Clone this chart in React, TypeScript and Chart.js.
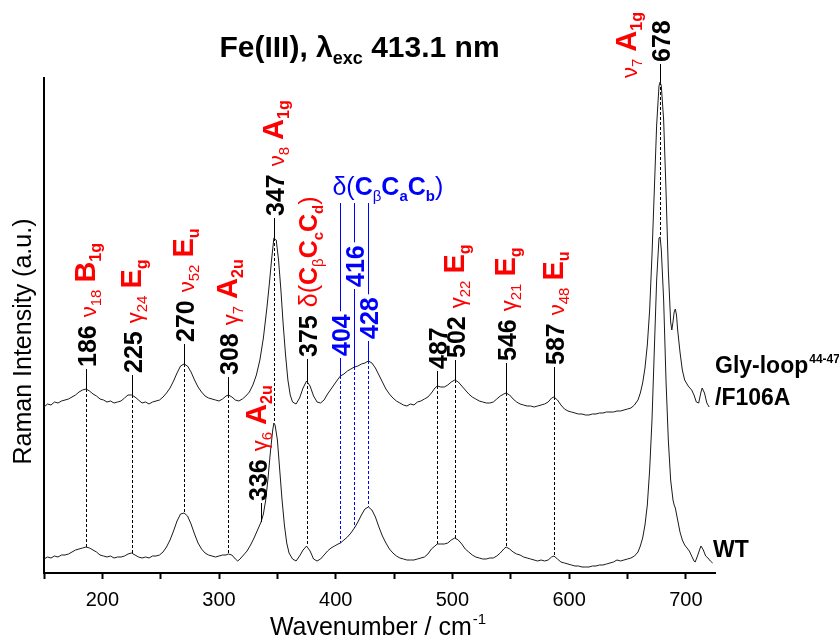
import React, { useEffect, useRef } from 'react';
import { Chart, registerables } from 'chart.js';

Chart.register(...registerables);

const FONT = '"Liberation Sans", Arial, sans-serif';
const RED = '#ff0000';
const BLUE = '#0000ff';
const BLACK = '#000000';

// Gly-loop44-47/F106A spectrum (upper trace, offset)
const glyWavenumber = [150,153,156,159,162,165,168,171,174,177,180,183,186,189,192,195,198,201,204,207,210,213,216,219,222,225,228,231,234,237,240,243,246,249,252,255,258,261,264,267,270,273,276,279,282,285,288,291,294,297,300,303,306,308,311,314,317,320,323,326,329,332,335,338,341,343,345,347,349,351,353,355,357,359,361,363,366,369,372,375,378,381,384,387,390,393,396,399,402,404,407,410,413,416,419,422,425,428,431,434,437,440,443,446,449,452,455,458,461,464,467,470,473,476,479,482,485,487,490,493,496,499,502,505,508,511,514,517,520,523,526,529,532,535,538,541,544,546,549,552,555,558,561,564,567,570,573,576,579,582,585,587,590,593,596,599,602,605,608,611,614,617,620,623,626,629,632,635,638,641,644,647,650,653,656,659,661,663,665,667,669,671,673,675,677,678,679,681,683,685,687,688,689,690,691,692,693,695,697,699,702,705,707,709,711,713,714,716,718,720];
const glyIntensity = [166,169,168,171,170,172,173,174,176,178,181,183,184,182,179,177,174,173,171,172,170,171,172,175,178,178,176,173,170,171,169,171,172,173,176,180,185,192,200,207,209,207,201,193,186,181,177,175,174,173,172,174,177,178,176,173,172,174,177,181,188,198,213,235,265,288,313,335,333,313,283,248,218,193,178,171,169,175,185,192,187,177,171,170,173,179,184,189,194,197,199,202,204,206,207,209,210,212,210,205,198,191,184,179,175,172,170,168,167,169,168,171,172,174,176,180,185,187,186,186,188,191,193,191,187,183,179,176,174,172,171,170,170,171,174,177,179,180,178,174,171,169,168,167,167,166,167,168,169,171,175,176,173,168,164,162,161,160,159,159,158,158,159,159,160,160,161,161,161,162,162,163,164,165,168,173,180,190,205,228,263,318,383,448,487,491,487,453,383,303,251,243,251,261,264,258,243,221,203,193,187,183,178,171,170,181,185,180,170,166];

// WT spectrum (lower trace)
const wtWavenumber = [150,153,156,159,162,165,168,171,174,177,180,183,186,189,192,195,198,201,204,207,210,213,216,219,222,225,228,231,234,237,240,243,246,249,252,255,258,261,264,267,270,273,276,279,282,285,288,291,294,297,300,303,306,308,311,314,316,318,321,324,327,330,333,336,338,340,342,344,346,347,348,350,352,354,356,358,360,363,366,369,372,375,378,381,384,387,390,393,396,399,402,404,407,410,413,416,419,422,425,428,431,434,437,440,443,446,449,452,455,458,461,464,467,470,473,476,479,482,485,487,490,493,496,499,502,505,508,511,514,517,520,523,526,529,532,535,538,541,544,546,549,552,555,558,561,564,567,570,573,576,579,582,585,587,590,593,596,599,602,605,608,611,614,617,620,623,626,629,632,635,638,641,644,647,650,653,656,659,661,663,665,667,669,671,673,675,677,678,679,681,683,685,687,689,690,691,693,695,697,699,701,703,705,707,708,710,712,713,715,717,719,721,723];
const wtIntensity = [14,16,15,17,16,18,18,19,21,23,24,25,26,25,23,21,18,17,16,17,15,16,16,17,19,20,18,16,15,16,15,17,17,18,21,26,33,42,52,59,60,57,49,39,30,24,20,18,17,16,17,18,18,19,18,14,12,14,18,22,28,35,43,51,59,73,95,121,143,150,148,133,103,73,48,30,20,14,12,17,23,27,22,14,12,14,18,22,25,27,29,30,33,36,40,45,51,58,64,66,63,56,46,37,30,24,20,17,15,14,13,13,13,14,15,16,19,24,27,29,29,29,30,33,35,33,29,24,21,18,16,15,14,14,15,15,17,20,24,26,24,21,19,18,16,15,14,13,12,13,12,13,16,17,14,11,10,9,8,7,7,6,6,6,7,7,8,8,9,10,11,13,12,13,14,15,17,21,27,35,48,68,103,153,223,293,335,336,323,273,193,133,93,73,68,65,53,41,33,28,25,22,17,12,11,17,24,27,23,17,15,12,10];

const xTickValues = [150, 200, 250, 300, 350, 400, 450, 500, 550, 600, 650, 700];
const xLabeledTicks = [200, 300, 400, 500, 600, 700];

type Seg = [string, string];
interface PeakLabel {
  x: number;
  trace: 'gly' | 'wt';
  lead: number;
  color: string;
  segs: Seg[];
  dx?: number;
  toHeading?: boolean;
  side?: Seg[];
}

const deltaRed: Seg[] = [['δ(', 'D'], ['C', 'C'], ['β', 'CB'], ['C', 'C'], ['c', 'CS'], ['C', 'C'], ['d', 'CS'], [')', 'D']];
const deltaBlue: Seg[] = [['δ(', 'D'], ['C', 'C'], ['β', 'CB'], ['C', 'C'], ['a', 'CS'], ['C', 'C'], ['b', 'CS'], [')', 'D']];

const peakLabels: PeakLabel[] = [
  { x: 186, trace: 'gly', lead: 20, color: BLACK, segs: [['186', 'N'], ['ν', 'G'], ['18', 'GS'], ['B', 'S'], ['1g', 'SS']] },
  { x: 225, trace: 'gly', lead: 20, color: BLACK, segs: [['225', 'N'], ['γ', 'G'], ['24', 'GS'], ['E', 'S'], ['g', 'SS']] },
  { x: 270, trace: 'gly', lead: 20, color: BLACK, segs: [['270', 'N'], ['ν', 'G'], ['52', 'GS'], ['E', 'S'], ['u', 'SS']] },
  { x: 308, trace: 'gly', lead: 18, color: BLACK, segs: [['308', 'N'], ['γ', 'G'], ['7', 'GS'], ['A', 'S'], ['2u', 'SS']] },
  { x: 347, trace: 'gly', lead: 20, color: BLACK, segs: [['347', 'N'], ['ν', 'G'], ['8', 'GS'], ['A', 'S'], ['1g', 'SS']] },
  { x: 375, trace: 'gly', lead: 22, color: BLACK, segs: [['375', 'N'], ...deltaRed] },
  { x: 404, trace: 'gly', lead: 18, color: BLUE, segs: [['404', 'N']], toHeading: true },
  { x: 416, trace: 'gly', lead: 78, color: BLUE, segs: [['416', 'N']], toHeading: true },
  { x: 428, trace: 'gly', lead: 20, color: BLUE, segs: [['428', 'N']], toHeading: true },
  { x: 487, trace: 'gly', lead: 15, color: BLACK, segs: [['487', 'N']] },
  { x: 502, trace: 'gly', lead: 20, color: BLACK, segs: [['502', 'N'], ['γ', 'G'], ['22', 'GS'], ['E', 'S'], ['g', 'SS']] },
  { x: 546, trace: 'gly', lead: 30, color: BLACK, segs: [['546', 'N'], ['γ', 'G'], ['21', 'GS'], ['E', 'S'], ['g', 'SS']] },
  { x: 587, trace: 'gly', lead: 30, color: BLACK, segs: [['587', 'N'], ['ν', 'G'], ['48', 'GS'], ['E', 'S'], ['u', 'SS']] },
  { x: 678, trace: 'gly', lead: 18, color: BLACK, segs: [['678', 'N']], side: [['ν', 'G'], ['7', 'GS'], ['A', 'S'], ['1g', 'SS']] },
  { x: 336, trace: 'wt', lead: 19, dx: -4, color: BLACK, segs: [['336', 'N'], ['γ', 'G'], ['6', 'GS'], ['A', 'S'], ['2u', 'SS']] },
];

const STY: Record<string, { font: string; dy: number; red: boolean; gap?: number }> = {
  N: { font: `bold 25px ${FONT}`, dy: 0, red: false, gap: 8 },
  G: { font: `22px ${FONT}`, dy: 0, red: true },
  GS: { font: `15px ${FONT}`, dy: 5, red: true, gap: 7 },
  S: { font: `bold 29px ${FONT}`, dy: -1, red: true },
  SS: { font: `bold 16px ${FONT}`, dy: 5, red: true },
  D: { font: `25px ${FONT}`, dy: 0, red: true },
  C: { font: `bold 25px ${FONT}`, dy: 0, red: true },
  CB: { font: `15px ${FONT}`, dy: 6, red: true },
  CS: { font: `bold 15px ${FONT}`, dy: 6, red: true },
};

function interp(xs: number[], ys: number[], x: number): number {
  for (let i = 0; i < xs.length - 1; i++) {
    if (x >= xs[i] && x <= xs[i + 1]) {
      const t = (x - xs[i]) / (xs[i + 1] - xs[i]);
      return ys[i] + t * (ys[i + 1] - ys[i]);
    }
  }
  return ys[ys.length - 1];
}

function drawSegs(ctx: CanvasRenderingContext2D, segs: Seg[], x0: number, y0: number, numColor: string, override?: string): number {
  let pos = x0;
  segs.forEach((s, i) => {
    const st = STY[s[1]];
    ctx.font = st.font;
    ctx.fillStyle = override || (st.red ? RED : numColor);
    ctx.fillText(s[0], pos, y0 + st.dy);
    pos += ctx.measureText(s[0]).width;
    if (st.gap && i < segs.length - 1) pos += st.gap;
  });
  return pos - x0;
}

function drawRotated(ctx: CanvasRenderingContext2D, x: number, yBottom: number, segs: Seg[], color: string): number {
  ctx.save();
  ctx.translate(x, yBottom);
  ctx.rotate(-Math.PI / 2);
  ctx.textBaseline = 'alphabetic';
  ctx.textAlign = 'left';
  const len = drawSegs(ctx, segs, 0, 9, color);
  ctx.restore();
  return len;
}

const annotationPlugin = {
  id: 'ramanAnnotations',
  beforeDatasetsDraw(chart: any) {
    const ctx: CanvasRenderingContext2D = chart.ctx;
    const xs = chart.scales.x;
    const ys = chart.scales.y;
    ctx.save();
    ctx.lineWidth = 1;
    ctx.setLineDash([3, 2]);
    peakLabels.forEach((p) => {
      if (p.trace !== 'gly') return;
      const px = Math.round(xs.getPixelForValue(p.x)) + 0.5;
      const yTop = ys.getPixelForValue(interp(glyWavenumber, glyIntensity, p.x));
      const yBot = ys.getPixelForValue(interp(wtWavenumber, wtIntensity, p.x));
      ctx.strokeStyle = p.color;
      ctx.beginPath();
      ctx.moveTo(px, yTop);
      ctx.lineTo(px, yBot);
      ctx.stroke();
    });
    ctx.restore();
  },
  afterDatasetsDraw(chart: any) {
    const ctx: CanvasRenderingContext2D = chart.ctx;
    const xs = chart.scales.x;
    const ys = chart.scales.y;
    const area = chart.chartArea;
    const headingBaseline = area.top + 117;
    const headingLineTop = headingBaseline + 8;

    ctx.save();
    peakLabels.forEach((p) => {
      const px = Math.round(xs.getPixelForValue(p.x)) + 0.5;
      const v = p.trace === 'gly' ? interp(glyWavenumber, glyIntensity, p.x) : interp(wtWavenumber, wtIntensity, p.x);
      const yTrace = ys.getPixelForValue(v);
      const yLeadTop = yTrace - p.lead;
      ctx.strokeStyle = p.color;
      ctx.lineWidth = 1;
      ctx.setLineDash([]);
      ctx.beginPath();
      ctx.moveTo(px, yTrace);
      ctx.lineTo(px, yLeadTop);
      ctx.stroke();
      const textBottom = yLeadTop - 2;
      const len = drawRotated(ctx, px + (p.dx || 0), textBottom, p.segs, p.color);
      if (p.toHeading) {
        ctx.strokeStyle = p.color;
        ctx.beginPath();
        ctx.moveTo(px, textBottom - len - 3);
        ctx.lineTo(px, headingLineTop);
        ctx.stroke();
      }
      if (p.side) {
        drawRotated(ctx, px - 33, yTrace - 4, p.side, p.color);
      }
    });

    // blue heading
    ctx.textBaseline = 'alphabetic';
    ctx.textAlign = 'left';
    drawSegs(ctx, deltaBlue, xs.getPixelForValue(404) - 8, headingBaseline, BLUE, BLUE);

    // sample labels
    ctx.fillStyle = BLACK;
    ctx.font = `bold 23px ${FONT}`;
    ctx.fillText('Gly-loop', area.right, area.top + 295);
    const gw = ctx.measureText('Gly-loop').width;
    ctx.font = `bold 12px ${FONT}`;
    ctx.fillText('44-47', area.right + gw + 1, area.top + 285);
    ctx.font = `bold 23px ${FONT}`;
    ctx.fillText('/F106A', area.right, area.top + 327);
    ctx.fillText('WT', area.right - 2, area.top + 479);

    // title
    const tSegs: [string, string][] = [['Fe(III), λ', `bold 30px ${FONT}`], ['exc', `bold 18px ${FONT}`], [' 413.1 nm', `bold 30px ${FONT}`]];
    let tw = 0;
    tSegs.forEach((s) => { ctx.font = s[1]; tw += ctx.measureText(s[0]).width; });
    let tx = (area.left + area.right) / 2 - 20 - tw / 2;
    const tBase = 57;
    tSegs.forEach((s, i) => {
      ctx.font = s[1];
      ctx.fillText(s[0], tx, tBase + (i === 1 ? 7 : 0));
      tx += ctx.measureText(s[0]).width;
    });

    // x-axis title
    ctx.font = `25px ${FONT}`;
    const xt = 'Wavenumber / cm';
    const xw = ctx.measureText(xt).width;
    ctx.font = `15px ${FONT}`;
    const sw = ctx.measureText('-1').width;
    const xx = (area.left + area.right) / 2 - 2 - (xw + sw) / 2;
    ctx.font = `25px ${FONT}`;
    ctx.fillText(xt, xx, 635);
    ctx.font = `15px ${FONT}`;
    ctx.fillText('-1', xx + xw + 1, 624);

    // y-axis title
    ctx.save();
    ctx.translate(31, (area.top + area.bottom) / 2 + 16);
    ctx.rotate(-Math.PI / 2);
    ctx.font = `25px ${FONT}`;
    ctx.textAlign = 'center';
    ctx.fillText('Raman Intensity (a.u.)', 0, 0);
    ctx.restore();

    ctx.restore();
  },
};

export default function App() {
  const ref = useRef<HTMLCanvasElement | null>(null);
  useEffect(() => {
    if (!ref.current) return;
    const toPts = (xs: number[], ys: number[]) => xs.map((x, i) => ({ x, y: ys[i] }));
    const chart = new Chart(ref.current, {
      type: 'line',
      data: {
        datasets: [
          { label: 'Gly-loop44-47/F106A', data: toPts(glyWavenumber, glyIntensity), borderColor: '#1a1a1a', borderWidth: 1, pointRadius: 0, tension: 0, fill: false },
          { label: 'WT', data: toPts(wtWavenumber, wtIntensity), borderColor: '#1a1a1a', borderWidth: 1, pointRadius: 0, tension: 0, fill: false },
        ],
      },
      options: {
        animation: false,
        responsive: false,
        devicePixelRatio: 1,
        layout: { padding: { left: 44, top: 78, right: 124, bottom: 0 } },
        plugins: { legend: { display: false }, title: { display: false }, tooltip: { enabled: false } },
        scales: {
          x: {
            type: 'linear',
            min: 150,
            max: 725,
            afterBuildTicks: (scale: any) => { scale.ticks = xTickValues.map((v) => ({ value: v })); },
            afterFit: (scale: any) => { scale.height = 66; },
            ticks: {
              autoSkip: false,
              maxRotation: 0,
              padding: 9,
              color: BLACK,
              font: { family: FONT, size: 20 },
              callback: (v: any) => (xLabeledTicks.includes(Number(v)) ? String(v) : ''),
            },
            grid: { display: true, drawOnChartArea: false, drawTicks: true, tickLength: 6, tickWidth: 2, tickColor: BLACK, color: BLACK },
            border: { display: true, color: BLACK, width: 2 },
          },
          y: {
            type: 'linear',
            min: 0,
            max: 495,
            afterFit: (scale: any) => { scale.width = 0; },
            ticks: { display: false },
            grid: { display: false },
            border: { display: true, color: BLACK, width: 2 },
          },
        },
      },
      plugins: [annotationPlugin],
    } as any);
    return () => chart.destroy();
  }, []);
  return (
    <div style={{ position: 'fixed', left: 0, top: 0, width: 839, height: 639, background: '#fff' }}>
      <canvas ref={ref} width={839} height={639} style={{ display: 'block', width: 839, height: 639 }} />
    </div>
  );
}
